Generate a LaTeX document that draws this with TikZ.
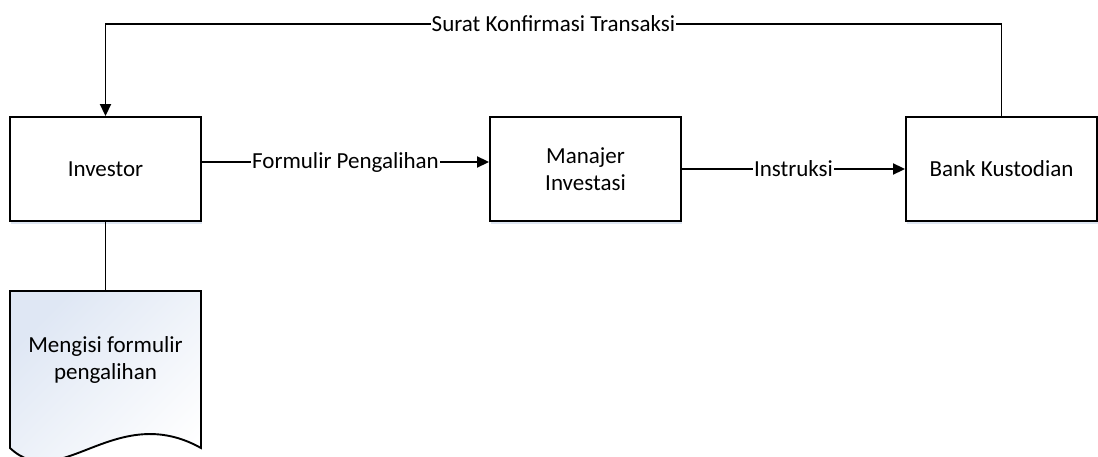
\documentclass[tikz,border=0pt]{standalone}
\usepackage{fontspec}
\setmainfont{Carlito}
\usetikzlibrary{arrows.meta,shadows}
\definecolor{shadowblue}{HTML}{C9D6EA}
\definecolor{docblue}{HTML}{DFE7F4}
\begin{document}
\begin{tikzpicture}[x=1pt,y=-1pt,
  txt/.style={font=\fontsize{23}{27.5}\selectfont},
  box/.style={txt, draw, line width=1.9pt, fill=white, minimum width=191pt,
    minimum height=104pt, align=center, inner sep=0pt,
    drop shadow={shadow xshift=1pt, shadow yshift=-3pt, fill=shadowblue, opacity=0.6}},
  arr/.style={-{Triangle[length=12pt,width=11pt]}, line width=1.9pt},
  conn/.style={line width=1.9pt},
  lbl/.style={txt, fill=white, inner sep=1pt}
]
\useasboundingbox (0,0) rectangle (1098,457);
\fill[white] (0,0) rectangle (1098,457);

\node[box] (inv) at (105.5,169) {Investor};
\node[box] (man) at (585.5,169) {Manajer\\Investasi};
\node[box] (bank) at (1001.5,169) {Bank Kustodian};

% document shape
\begin{scope}
\clip (0,0) rectangle (1098,457);
\path[draw, line width=1.9pt, top color=docblue, bottom color=white, shading angle=45]
  (10,291) -- (201,291) -- (201,448) .. controls (115,400) and (60,495) .. (10,448) -- cycle;
\end{scope}
\coordinate (doctop) at (105.5,291);
\node[txt, align=center] (doc) at (105.5,360) {Mengisi formulir\\pengalihan};

\draw[conn] (inv.south) -- (doctop);

\draw[arr] ([yshift=7pt]inv.east) -- node[lbl] {Formulir Pengalihan} ([yshift=7pt]man.west);
\draw[arr] (man.east) -- node[lbl] {Instruksi} (bank.west);

\coordinate (tr) at (1001.5,24);
\coordinate (tl) at (105.5,24);
\draw[arr] (bank.north) -- (tr) -- node[lbl] {Surat Konfirmasi Transaksi} (tl) -- (inv.north);
\end{tikzpicture}
\end{document}
